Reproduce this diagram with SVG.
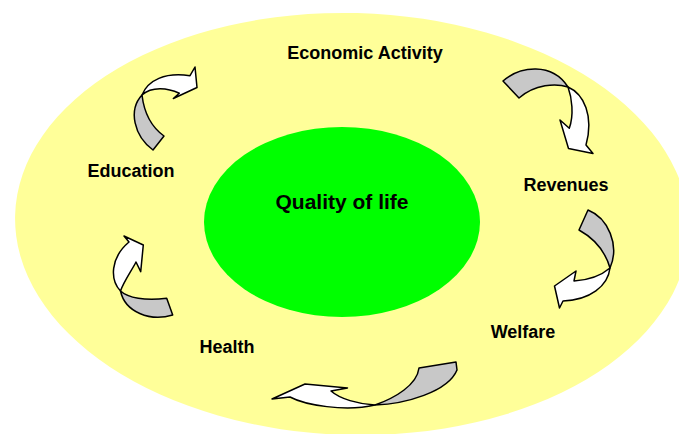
<svg xmlns="http://www.w3.org/2000/svg" width="679" height="434" viewBox="0 0 679 434">
  <style>
    .label { font-family: "Liberation Sans", Arial, sans-serif; font-weight: bold; font-size: 18px; fill: #000; text-anchor: middle; }
    .title { font-size: 21px; }
    .back { fill: #C8C8C8; stroke: #000; stroke-width: 1.5; stroke-linejoin: round; }
    .front { fill: #FFFFFF; stroke: #000; stroke-width: 1.5; stroke-linejoin: round; }
  </style>
  <rect width="679" height="434" fill="#FFFFFF"/>

  <!-- outer ring -->
  <g id="ring">
    <ellipse cx="352" cy="224" rx="337" ry="211" fill="#FFFF99" transform="rotate(1.5 352 224)"/>
  </g>

  <!-- centre -->
  <g id="quality-of-life">
    <ellipse cx="342" cy="222" rx="138" ry="95" fill="#00FF00"/>
    <text class="label title" x="342" y="209">Quality of life</text>
  </g>

  <g id="economic-activity">
    <text class="label" x="365" y="59">Economic Activity</text>
  </g>
  <g id="revenues">
    <text class="label" x="566" y="191">Revenues</text>
  </g>
  <g id="welfare">
    <text class="label" x="523" y="338">Welfare</text>
  </g>
  <g id="health">
    <text class="label" x="227" y="353">Health</text>
  </g>
  <g id="education">
    <text class="label" x="131" y="177">Education</text>
  </g>

  <!-- twisted ribbon arrows between the labels -->
  <g id="connectors">
    <!-- Education -> Economic Activity -->
    <g id="arrow-education-economic">
      <path class="back" d="M153,150 C134,136 128,110 142,95 C144,112 150,126 164,136 Z"/>
      <path class="front" d="M142,95 C148,80 165,72 190,75.7 L195,67 L197,87.5 L173.3,98.5 L179.3,93.3 C168,88 152,86 142,95 Z"/>
    </g>
    <!-- Economic Activity -> Revenues -->
    <g id="arrow-economic-revenues">
      <path class="back" d="M503,81 C520,66 552,62 568,87 C556,83 535,84 519,98 Z"/>
      <path class="front" d="M568,87 C584,94 594,116 586,145 L593,153.5 L568.5,148.5 L560,120 L569.3,128.3 C574,115 572,98 568,87 Z"/>
    </g>
    <!-- Revenues -> Welfare -->
    <g id="arrow-revenues-welfare">
      <path class="back" d="M588,210 C608,218 620,245 610,268 C606,254 597,240 579,230 Z"/>
      <path class="front" d="M610,268 C608,286 590,300 563,301 L559.5,308 L554.5,286 L576,271 L574,281 C590,280 603,274 610,268 Z"/>
    </g>
    <!-- Welfare -> Health -->
    <g id="arrow-welfare-health">
      <path class="back" d="M375,405 C395,398 417,385 419,368 L456,362 L457,370 C448,392 405,404 375,405 Z"/>
      <path class="front" d="M375,405 C358,404 340,399 331,391 L347.5,388 L305,384 L272,399 L290,397 C305,405 345,412 375,405 Z"/>
    </g>
    <!-- Health -> Education -->
    <g id="arrow-health-education">
      <path class="back" d="M120.5,291 C128,298 145,301 166.7,298.3 L172.7,315 C150,322 125,312 120.5,291 Z"/>
      <path class="front" d="M120.5,291 C110,280 110,258 129,242 L124,236 L143.3,245 L140.7,271.7 L136,262 C132,270 124,281 120.5,291 Z"/>
    </g>
  </g>
</svg>
